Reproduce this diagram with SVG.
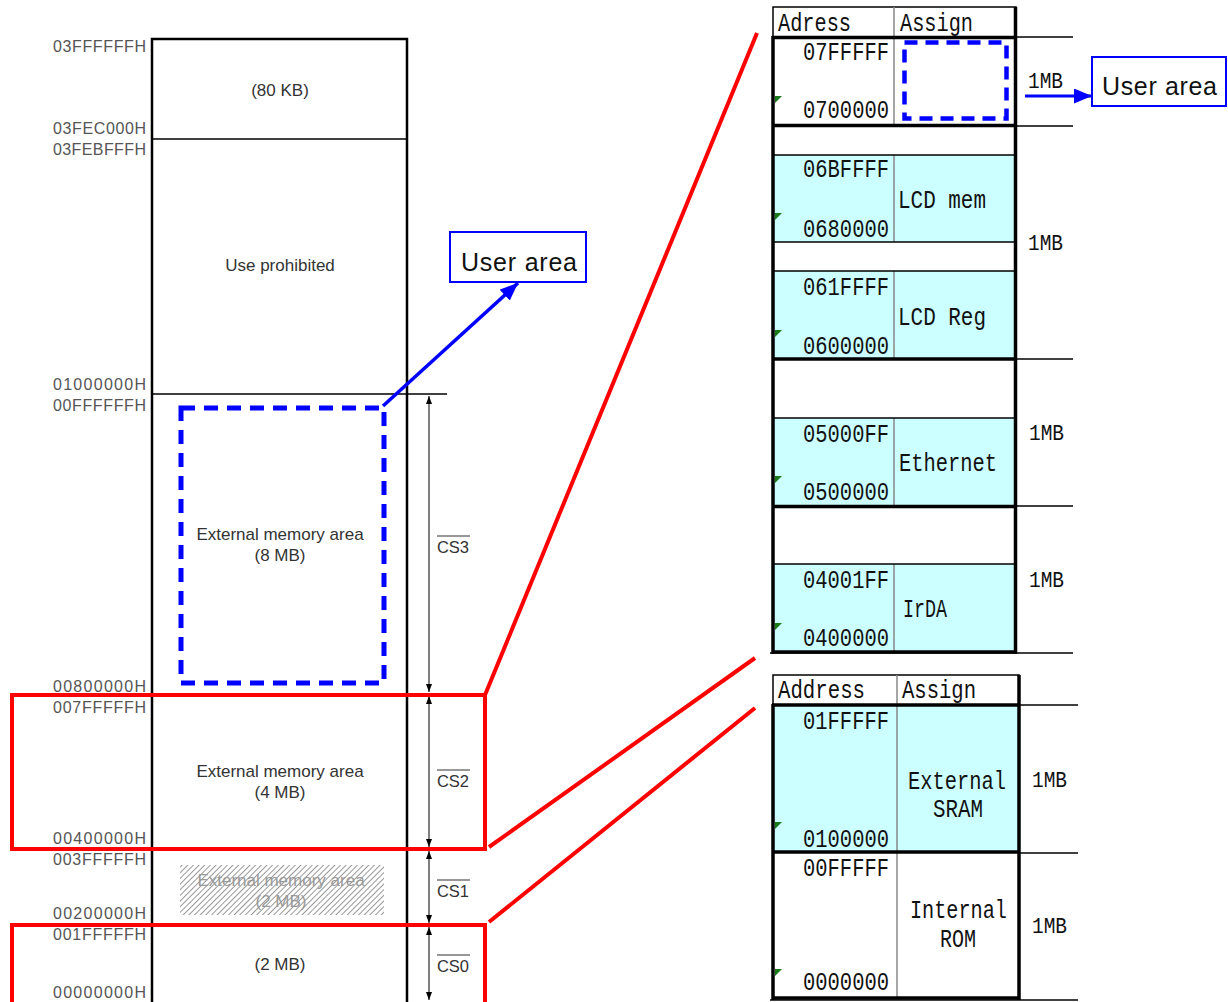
<svg xmlns="http://www.w3.org/2000/svg" width="1228" height="1002" viewBox="0 0 1228 1002">
<defs>
<style>
.lbl{font-family:"Liberation Sans",Arial,sans-serif;font-size:16px;fill:#555}
.area{font-family:"Liberation Sans",Arial,sans-serif;font-size:17px;fill:#333;text-anchor:middle}
.hat{font-family:"Liberation Sans",Arial,sans-serif;font-size:17px;fill:#999;text-anchor:middle}
.cs{font-family:"Liberation Sans",Arial,sans-serif;font-size:16.5px;fill:#333;text-anchor:middle}
.ua{font-family:"Liberation Sans",Arial,sans-serif;font-size:25px;fill:#111}
.mono{font-family:"Liberation Mono","DejaVu Sans Mono",monospace;font-size:25px;fill:#111}
.mb{font-family:"Liberation Mono","DejaVu Sans Mono",monospace;font-size:22px;fill:#111}
.thick{stroke:#000;stroke-width:3.5;fill:none}
.thin{stroke:#000;stroke-width:1.5;fill:none}
.div{stroke:#888;stroke-width:1.5}
.cyan{fill:#ccffff}
.red{stroke:#ff0000;stroke-width:4;fill:none}
.bdash{stroke:#0000ff;stroke-width:5;fill:none;stroke-dasharray:14 9}
.tri{fill:#1a7a1a}
</style>
<marker id="bh" markerUnits="userSpaceOnUse" markerWidth="18" markerHeight="15" refX="18" refY="7.5" orient="auto"><path d="M0,0 L18,7.5 L0,15 z" fill="#0000ff"/></marker>
<marker id="ch" markerUnits="userSpaceOnUse" markerWidth="8" markerHeight="6" refX="8" refY="3" orient="auto-start-reverse"><path d="M0,0 L8,3 L0,6 z" fill="#000"/></marker>
<pattern id="hatch" patternUnits="userSpaceOnUse" width="4" height="4" patternTransform="rotate(45)"><line x1="0" y1="0" x2="0" y2="4" stroke="#444" stroke-width="1.1"/></pattern>
</defs>
<rect width="1228" height="1002" fill="#fff"/>

<g id="memmap">
<line class="thin" x1="152" y1="139" x2="407" y2="139"/>
<line class="thin" x1="152" y1="394" x2="447" y2="394"/>
<line class="thin" x1="152" y1="694" x2="447" y2="694"/>
<line class="thin" x1="152" y1="849" x2="447" y2="849"/>
<line class="thin" x1="152" y1="925" x2="447" y2="925"/>
<path d="M152,1002 V39 H407 V1002" stroke="#000" stroke-width="2.5" fill="none"/>
</g>

<g id="labels">
<text class="lbl" x="53" y="52" textLength="93" lengthAdjust="spacing">03FFFFFFH</text>
<text class="lbl" x="53" y="134" textLength="93" lengthAdjust="spacing">03FEC000H</text>
<text class="lbl" x="53" y="155" textLength="93" lengthAdjust="spacing">03FEBFFFH</text>
<text class="lbl" x="53" y="390" textLength="93" lengthAdjust="spacing">01000000H</text>
<text class="lbl" x="53" y="411" textLength="93" lengthAdjust="spacing">00FFFFFFH</text>
<text class="lbl" x="53" y="692" textLength="93" lengthAdjust="spacing">00800000H</text>
<text class="lbl" x="53" y="713" textLength="93" lengthAdjust="spacing">007FFFFFH</text>
<text class="lbl" x="53" y="844" textLength="93" lengthAdjust="spacing">00400000H</text>
<text class="lbl" x="53" y="865" textLength="93" lengthAdjust="spacing">003FFFFFH</text>
<text class="lbl" x="53" y="919" textLength="93" lengthAdjust="spacing">00200000H</text>
<text class="lbl" x="53" y="940" textLength="93" lengthAdjust="spacing">001FFFFFH</text>
<text class="lbl" x="53" y="998" textLength="93" lengthAdjust="spacing">00000000H</text>
</g>

<g id="area-80kb"><text class="area" x="280" y="96">(80 KB)</text></g>
<g id="area-prohibited"><text class="area" x="280" y="271">Use prohibited</text></g>
<g id="area-cs3">
<rect class="bdash" x="181" y="408" width="203" height="275"/>
<text class="area" x="280" y="540">External memory area</text>
<text class="area" x="280" y="561">(8 MB)</text>
</g>
<g id="area-cs2">
<text class="area" x="280" y="777">External memory area</text>
<text class="area" x="280" y="798">(4 MB)</text>
</g>
<g id="area-cs1">
<rect x="180" y="865" width="204" height="50" fill="url(#hatch)"/>
<text class="hat" x="281" y="886">External memory area</text>
<text class="hat" x="281" y="907">(2 MB)</text>
</g>
<g id="area-cs0"><text class="area" x="280" y="970">(2 MB)</text></g>

<g id="cs-arrows" stroke="#000" stroke-width="1">
<line x1="429" y1="396" x2="429" y2="692" marker-start="url(#ch)" marker-end="url(#ch)"/>
<line x1="429" y1="696" x2="429" y2="847" marker-start="url(#ch)" marker-end="url(#ch)"/>
<line x1="429" y1="851" x2="429" y2="923" marker-start="url(#ch)" marker-end="url(#ch)"/>
<line x1="429" y1="927" x2="429" y2="1000" marker-start="url(#ch)" marker-end="url(#ch)"/>
</g>
<g id="cs-labels">
<text class="cs" x="453" y="553">CS3</text><line x1="437" y1="536" x2="470" y2="536" stroke="#333" stroke-width="1.2"/>
<text class="cs" x="453" y="787">CS2</text><line x1="437" y1="770" x2="470" y2="770" stroke="#333" stroke-width="1.2"/>
<text class="cs" x="453" y="897">CS1</text><line x1="437" y1="880" x2="470" y2="880" stroke="#333" stroke-width="1.2"/>
<text class="cs" x="453" y="972">CS0</text><line x1="437" y1="955" x2="470" y2="955" stroke="#333" stroke-width="1.2"/>
</g>

<g id="user-area-left">
<rect x="450" y="232" width="136" height="50" fill="#fff" stroke="#0000ff" stroke-width="2"/>
<text class="ua" x="461" y="271" textLength="116">User area</text>
</g>

<g id="connectors">
<line x1="383" y1="406" x2="518" y2="283" stroke="#0000ff" stroke-width="3.5" marker-end="url(#bh)"/>
<path class="red" d="M12,695 H485 V849 H12 Z"/>
<path class="red" d="M12,1004 V925 H485 V1004"/>
<line class="red" x1="485" y1="695" x2="757" y2="33"/>
<line class="red" x1="489" y1="847" x2="755" y2="658"/>
<line class="red" x1="489" y1="922" x2="755" y2="708"/>
<line x1="1025" y1="96" x2="1092" y2="96" stroke="#0000ff" stroke-width="3" marker-end="url(#bh)"/>
</g>

<g id="table-upper">
<rect class="cyan" x="773" y="155" width="243" height="87"/>
<rect class="cyan" x="773" y="271" width="243" height="88"/>
<rect class="cyan" x="773" y="418" width="243" height="88"/>
<rect class="cyan" x="773" y="564" width="243" height="88"/>
<rect x="773" y="7" width="243" height="30" fill="#fff" stroke="#000" stroke-width="1.5"/>
<line class="div" x1="894" y1="7" x2="894" y2="37"/>
<text class="mono" x="778" y="31" textLength="73" lengthAdjust="spacingAndGlyphs">Adress</text>
<text class="mono" x="900" y="31" textLength="73" lengthAdjust="spacingAndGlyphs">Assign</text>
<line class="div" x1="894" y1="37" x2="894" y2="125"/>
<line class="div" x1="894" y1="155" x2="894" y2="242"/>
<line class="div" x1="894" y1="271" x2="894" y2="358"/>
<line class="div" x1="894" y1="418" x2="894" y2="505"/>
<line class="div" x1="894" y1="564" x2="894" y2="651"/>
<line class="thin" x1="773" y1="155" x2="1016" y2="155"/>
<line class="thin" x1="773" y1="242" x2="1016" y2="242"/>
<line class="thin" x1="773" y1="271" x2="1016" y2="271"/>
<line class="thin" x1="773" y1="418" x2="1016" y2="418"/>
<line class="thin" x1="773" y1="564" x2="1016" y2="564"/>
<line class="thick" x1="772" y1="37.5" x2="1016" y2="37.5"/>
<line class="thick" x1="772" y1="125.5" x2="1016" y2="125.5"/>
<line class="thick" x1="772" y1="359" x2="1016" y2="359"/>
<line class="thick" x1="772" y1="506.5" x2="1016" y2="506.5"/>
<line class="thick" x1="772" y1="652" x2="1016" y2="652"/>
<line class="thick" x1="773" y1="36" x2="773" y2="654"/>
<line class="thick" x1="1015.5" y1="7" x2="1015.5" y2="654"/>
<line class="thin" x1="1016" y1="37" x2="1073" y2="37"/>
<line class="thin" x1="1016" y1="126" x2="1073" y2="126"/>
<line class="thin" x1="1016" y1="359" x2="1073" y2="359"/>
<line class="thin" x1="1016" y1="506" x2="1073" y2="506"/>
<line class="thin" x1="770" y1="653" x2="1073" y2="653"/>
</g>
<g id="row-user">
<text class="mono" x="803" y="60" textLength="86" lengthAdjust="spacingAndGlyphs">07FFFFF</text>
<text class="mono" x="803" y="118" textLength="86" lengthAdjust="spacingAndGlyphs">0700000</text>
<rect x="904.5" y="42.5" width="102" height="76" stroke="#0000ff" stroke-width="4.5" fill="none" stroke-dasharray="13 8"/>
<text class="mb" x="1028" y="88" textLength="35" lengthAdjust="spacingAndGlyphs">1MB</text>
</g>
<g id="row-lcdmem">
<text class="mono" x="803" y="177" textLength="86" lengthAdjust="spacingAndGlyphs">06BFFFF</text>
<text class="mono" x="803" y="237" textLength="86" lengthAdjust="spacingAndGlyphs">0680000</text>
<text class="mono" x="898" y="208" textLength="88" lengthAdjust="spacingAndGlyphs">LCD mem</text>
<text class="mb" x="1028" y="250" textLength="35" lengthAdjust="spacingAndGlyphs">1MB</text>
</g>
<g id="row-lcdreg">
<text class="mono" x="803" y="295" textLength="86" lengthAdjust="spacingAndGlyphs">061FFFF</text>
<text class="mono" x="803" y="354" textLength="86" lengthAdjust="spacingAndGlyphs">0600000</text>
<text class="mono" x="898" y="325" textLength="88" lengthAdjust="spacingAndGlyphs">LCD Reg</text>
</g>
<g id="row-ethernet">
<text class="mono" x="803" y="442" textLength="86" lengthAdjust="spacingAndGlyphs">05000FF</text>
<text class="mono" x="803" y="500" textLength="86" lengthAdjust="spacingAndGlyphs">0500000</text>
<text class="mono" x="899" y="471" textLength="98" lengthAdjust="spacingAndGlyphs">Ethernet</text>
<text class="mb" x="1029" y="440" textLength="35" lengthAdjust="spacingAndGlyphs">1MB</text>
</g>
<g id="row-irda">
<text class="mono" x="803" y="588" textLength="86" lengthAdjust="spacingAndGlyphs">04001FF</text>
<text class="mono" x="803" y="646" textLength="86" lengthAdjust="spacingAndGlyphs">0400000</text>
<text class="mono" x="903" y="617" textLength="44" lengthAdjust="spacingAndGlyphs">IrDA</text>
<text class="mb" x="1029" y="587" textLength="35" lengthAdjust="spacingAndGlyphs">1MB</text>
</g>

<g id="user-area-right">
<rect x="1092" y="57" width="134" height="49" fill="#fff" stroke="#0000ff" stroke-width="2"/>
<text class="ua" x="1102" y="95" textLength="115">User area</text>
</g>

<g id="table-lower">
<rect class="cyan" x="773" y="705" width="246" height="147"/>
<rect x="773" y="675" width="246" height="30" fill="#fff" stroke="#000" stroke-width="1.5"/>
<line class="div" x1="897" y1="675" x2="897" y2="998"/>
<text class="mono" x="778" y="698" textLength="87" lengthAdjust="spacingAndGlyphs">Address</text>
<text class="mono" x="902" y="698" textLength="74" lengthAdjust="spacingAndGlyphs">Assign</text>
<line class="thick" x1="772" y1="705" x2="1019" y2="705"/>
<line class="thick" x1="772" y1="852" x2="1019" y2="852"/>
<line class="thick" x1="772" y1="998" x2="1019" y2="998"/>
<line class="thick" x1="773" y1="704" x2="773" y2="1000"/>
<line class="thick" x1="1019" y1="675" x2="1019" y2="1000"/>
<line class="thin" x1="1019" y1="705" x2="1078" y2="705"/>
<line class="thin" x1="1019" y1="853" x2="1078" y2="853"/>
<line class="thin" x1="770" y1="1000" x2="1078" y2="1000"/>
</g>
<g id="row-sram">
<text class="mono" x="803" y="729" textLength="86" lengthAdjust="spacingAndGlyphs">01FFFFF</text>
<text class="mono" x="803" y="847" textLength="86" lengthAdjust="spacingAndGlyphs">0100000</text>
<text class="mono" x="908" y="789" textLength="98" lengthAdjust="spacingAndGlyphs">External</text>
<text class="mono" x="933" y="817" textLength="50" lengthAdjust="spacingAndGlyphs">SRAM</text>
<text class="mb" x="1032" y="787" textLength="35" lengthAdjust="spacingAndGlyphs">1MB</text>
</g>
<g id="row-rom">
<text class="mono" x="803" y="876" textLength="86" lengthAdjust="spacingAndGlyphs">00FFFFF</text>
<text class="mono" x="803" y="990" textLength="86" lengthAdjust="spacingAndGlyphs">0000000</text>
<text class="mono" x="910" y="918" textLength="97" lengthAdjust="spacingAndGlyphs">Internal</text>
<text class="mono" x="940" y="947" textLength="36" lengthAdjust="spacingAndGlyphs">ROM</text>
<text class="mb" x="1032" y="933" textLength="35" lengthAdjust="spacingAndGlyphs">1MB</text>
</g>

<g id="cell-marks">
<polygon class="tri" points="775,96 782,96 775,103"/>
<polygon class="tri" points="775,213 782,213 775,220"/>
<polygon class="tri" points="775,330 782,330 775,337"/>
<polygon class="tri" points="775,476 782,476 775,483"/>
<polygon class="tri" points="775,623 782,623 775,630"/>
<polygon class="tri" points="775,822 782,822 775,829"/>
<polygon class="tri" points="775,969 782,969 775,976"/>
</g>
</svg>
